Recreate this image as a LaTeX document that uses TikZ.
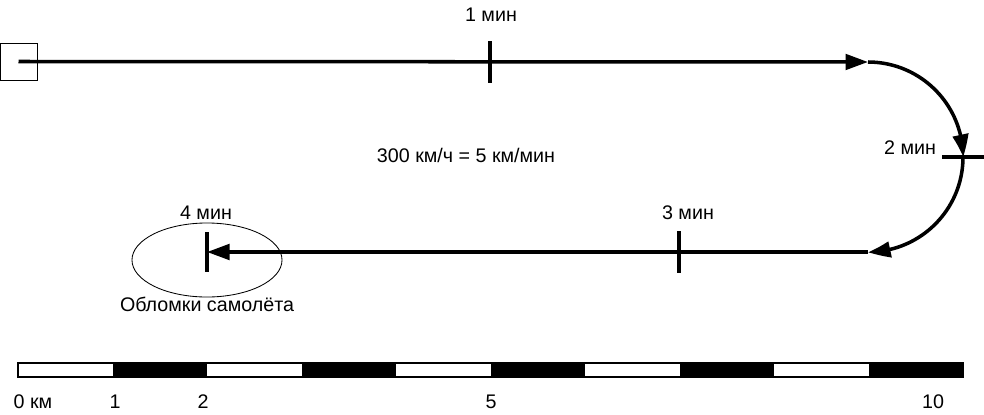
\documentclass[tikz,border=0pt]{standalone}
\usepackage{fontspec}
\setmainfont{Liberation Sans}
\usetikzlibrary{shapes.geometric,arrows.meta,bending}

\begin{document}
\begin{tikzpicture}[x=0.025cm, y=0.025cm,
  route/.style={line width=2.5pt},
  tickmark/.style={line width=2.5pt},
  fwd/.style={-{Triangle[length=16pt, width=11pt, bend]}},
  lbl/.style={font=\fontsize{14}{16}\selectfont, inner sep=0pt},
  thin line/.style={draw, line width=0.6pt}
]
\useasboundingbox (0,0) rectangle (984,-414);

% start point and route
\node[thin line, minimum size=0.925cm, inner sep=0pt] (box) at (18.5,-61.5) {};
\coordinate (turnA) at (868,-62);
\coordinate (turnB) at (963,-157);
\coordinate (turnC) at (868,-252);
\coordinate (t1) at (490,-62);
\coordinate (t3) at (679,-252);
\coordinate (t4) at (207,-252);

\draw[route, fwd] (box.center) -- (turnA);
\draw[route, fwd] (turnA) arc[start angle=90, end angle=0, radius=95];
\draw[route, fwd] (turnB) arc[start angle=0, end angle=-90, radius=95];
\draw[route, fwd] (turnC) -- (t4);

% ticks
\draw[tickmark] (t1) ++(0,21) -- ++(0,-42);
\draw[tickmark] (turnB) ++(-21,0) -- ++(42,0);
\draw[tickmark] (t3) ++(0,21) -- ++(0,-42);
\draw[tickmark] (t4) ++(0,20) -- ++(0,-40);

% labels
\node[lbl] (m1) at (491,-15) {1 мин};
\node[lbl] (m2) at (910,-148) {2 мин};
\node[lbl] (m3) at (688,-213) {3 мин};
\node[lbl] (m4) at (206,-213) {4 мин};
\node[lbl] (speed) at (466,-155) {300 км/ч = 5 км/мин};

% crash site
\node[thin line, ellipse, minimum width=3.75cm, minimum height=1.85cm] (wreck) at (207,-260) {};
\node[lbl] (wrecklbl) at (207,-304) {Обломки самолёта};

% scale bar
\foreach \i in {0,...,9} {
  \ifodd\i
    \fill[black] ({18+94.5*\i},-363) rectangle ({18+94.5*(\i+1)},-377);
  \fi
}
\draw[line width=0.8pt] (18,-363) rectangle (963,-377);
\node[lbl] (k0) at (33,-402) {0 км};
\node[lbl] (k1) at (115,-402) {1};
\node[lbl] (k2) at (203,-402) {2};
\node[lbl] (k5) at (491,-402) {5};
\node[lbl] (k10) at (933,-402) {10};
\end{tikzpicture}
\end{document}
